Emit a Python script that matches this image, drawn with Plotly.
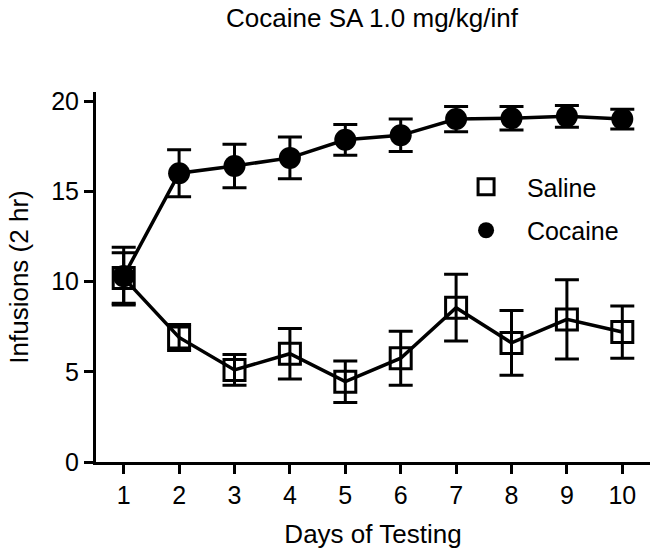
import plotly.graph_objects as go

days = [1, 2, 3, 4, 5, 6, 7, 8, 9, 10]
saline_mean = [10.2, 6.9, 5.1, 6.0, 4.45, 5.75, 8.55, 6.6, 7.9, 7.2]
saline_sem = [1.4, 0.72, 0.85, 1.4, 1.15, 1.5, 1.85, 1.8, 2.2, 1.45]
cocaine_mean = [10.3, 16.0, 16.4, 16.85, 17.85, 18.1, 19.0, 19.05, 19.15, 19.0]
cocaine_sem = [1.6, 1.3, 1.2, 1.15, 0.85, 0.9, 0.7, 0.65, 0.6, 0.55]
y_ticks = [0, 5, 10, 15, 20]

FONT = "Liberation Sans, Arial, Helvetica, sans-serif"
NB = "\u00a0"

fig = go.Figure()
# connecting lines (not in legend)
fig.add_trace(go.Scatter(x=days, y=saline_mean, mode="lines", showlegend=False,
                         line=dict(color="black", width=3.5), hoverinfo="skip"))
fig.add_trace(go.Scatter(x=days, y=cocaine_mean, mode="lines", showlegend=False,
                         line=dict(color="black", width=3.5), hoverinfo="skip"))
# markers with error bars (in legend)
fig.add_trace(go.Scatter(
    x=days, y=saline_mean, name=NB * 3 + "Saline", legendgroup="s",
    mode="markers",
    marker=dict(symbol="square-open", size=21, color="black", line=dict(width=3, color="black")),
    error_y=dict(type="data", array=saline_sem, visible=True, color="black", thickness=3, width=12),
))
fig.add_trace(go.Scatter(
    x=days, y=cocaine_mean, name=NB * 3 + "Cocaine", legendgroup="c",
    mode="markers",
    marker=dict(symbol="circle", size=22, color="black"),
    error_y=dict(type="data", array=cocaine_sem, visible=True, color="black", thickness=3, width=12),
))

fig.update_layout(
    width=658, height=555,
    margin=dict(l=96, r=8, t=92, b=93),
    paper_bgcolor="white", plot_bgcolor="white",
    font=dict(family=FONT, size=24, color="black"),
    title=dict(text="Cocaine SA 1.0 mg/kg/inf", x=372 / 658, xanchor="center",
               y=1 - 18 / 555, yanchor="middle", yref="container",
               font=dict(size=26, family=FONT, color="black")),
    legend=dict(x=0.668, y=0.8054, xanchor="left", yanchor="top",
                font=dict(size=25, family=FONT, color="black"),
                bgcolor="rgba(0,0,0,0)", tracegroupgap=8, itemsizing="trace"),
    showlegend=True,
)
fig.update_xaxes(
    range=[0.5, 10.5], tickmode="array", tickvals=days, ticktext=[str(d) for d in days],
    showline=True, linecolor="black", linewidth=3, ticks="outside", ticklen=9,
    tickwidth=3, tickcolor="black", showgrid=False, zeroline=False,
    tickfont=dict(size=25, family=FONT, color="black"),
    title=dict(text="Days of Testing", font=dict(size=26, family=FONT, color="black"), standoff=17),
)
fig.update_yaxes(
    range=[0, 20.5], tickmode="array", tickvals=y_ticks, ticktext=[str(v) for v in y_ticks],
    showline=True, linecolor="black", linewidth=3, ticks="outside", ticklen=9,
    tickwidth=3, tickcolor="black", showgrid=False, zeroline=False,
    tickfont=dict(size=25, family=FONT, color="black"),
    title=dict(text="Infusions (2 hr)", font=dict(size=26, family=FONT, color="black"), standoff=16),
)

# remove the browser's default 8px page margin so the figure sits at the window origin
fig.write_html("out.html", config={"displayModeBar": False},
               post_script="document.body.style.margin='0';")
